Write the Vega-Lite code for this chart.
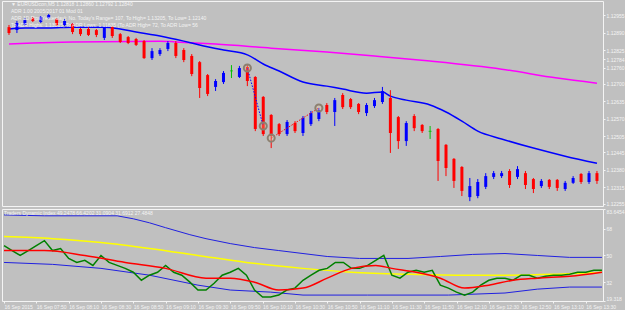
{
"$schema":"https://vega.github.io/schema/vega-lite/v6.json",
"background":"#C0C0C0",
"padding":{"left":0,"top":0,"right":0,"bottom":0},
"bounds":"flush",
"spacing":3,
"config":{"view":{"stroke":"#F4F4F4","strokeWidth":1},"font":"Liberation Sans",
"axis":{"labelColor":"#F4F4F4","labelFontSize":5,"tickColor":"#F4F4F4","tickSize":2,"labelPadding":1,"domain":false,"grid":false,"title":null,"labelFont":"Liberation Sans"}},
"datasets":{
"bars":[
{"t":"2015-09-16T07:30","d":"down","h":1.12918,"l":1.12881,"o":1.12910,"c":1.12888},
{"t":"2015-09-16T07:35","d":"up","h":1.12933,"l":1.12888,"o":1.12899,"c":1.12925},
{"t":"2015-09-16T07:40","d":"up","h":1.12944,"l":1.12914,"o":1.12918,"c":1.12936},
{"t":"2015-09-16T07:45","d":"down","h":1.12948,"l":1.12929,"o":1.12944,"c":1.12933},
{"t":"2015-09-16T07:50","d":"up","h":1.12951,"l":1.12925,"o":1.12929,"c":1.12948},
{"t":"2015-09-16T07:55","d":"up","h":1.12959,"l":1.12940,"o":1.12944,"c":1.12955},
{"t":"2015-09-16T08:00","d":"down","h":1.12944,"l":1.12914,"o":1.12940,"c":1.12918},
{"t":"2015-09-16T08:05","d":"up","h":1.12940,"l":1.12914,"o":1.12918,"c":1.12933},
{"t":"2015-09-16T08:10","d":"down","h":1.12925,"l":1.12884,"o":1.12922,"c":1.12892},
{"t":"2015-09-16T08:15","d":"down","h":1.12907,"l":1.12877,"o":1.12903,"c":1.12884},
{"t":"2015-09-16T08:20","d":"down","h":1.12910,"l":1.12877,"o":1.12903,"c":1.12881},
{"t":"2015-09-16T08:25","d":"down","h":1.12903,"l":1.12873,"o":1.12899,"c":1.12881},
{"t":"2015-09-16T08:30","d":"up","h":1.12910,"l":1.12862,"o":1.12870,"c":1.12907},
{"t":"2015-09-16T08:35","d":"down","h":1.12914,"l":1.12870,"o":1.12910,"c":1.12877},
{"t":"2015-09-16T08:40","d":"down","h":1.12888,"l":1.12851,"o":1.12884,"c":1.12855},
{"t":"2015-09-16T08:45","d":"down","h":1.12877,"l":1.12847,"o":1.12873,"c":1.12851},
{"t":"2015-09-16T08:50","d":"down","h":1.12870,"l":1.12840,"o":1.12866,"c":1.12844},
{"t":"2015-09-16T08:55","d":"down","h":1.12862,"l":1.12792,"o":1.12858,"c":1.12795},
{"t":"2015-09-16T09:00","d":"up","h":1.12832,"l":1.12788,"o":1.12795,"c":1.12821},
{"t":"2015-09-16T09:05","d":"up","h":1.12832,"l":1.12803,"o":1.12810,"c":1.12825},
{"t":"2015-09-16T09:10","d":"up","h":1.12858,"l":1.12821,"o":1.12829,"c":1.12851},
{"t":"2015-09-16T09:15","d":"down","h":1.12858,"l":1.12795,"o":1.12851,"c":1.12803},
{"t":"2015-09-16T09:20","d":"down","h":1.12832,"l":1.12780,"o":1.12825,"c":1.12788},
{"t":"2015-09-16T09:25","d":"down","h":1.12810,"l":1.12728,"o":1.12803,"c":1.12736},
{"t":"2015-09-16T09:30","d":"down","h":1.12784,"l":1.12647,"o":1.12780,"c":1.12684},
{"t":"2015-09-16T09:35","d":"down","h":1.12736,"l":1.12654,"o":1.12732,"c":1.12662},
{"t":"2015-09-16T09:40","d":"up","h":1.12717,"l":1.12673,"o":1.12688,"c":1.12710},
{"t":"2015-09-16T09:45","d":"up","h":1.12747,"l":1.12699,"o":1.12706,"c":1.12740},
{"t":"2015-09-16T09:50","d":"doji","h":1.12769,"l":1.12721,"o":1.12746,"c":1.12749},
{"t":"2015-09-16T09:55","d":"up","h":1.12766,"l":1.12721,"o":1.12725,"c":1.12758},
{"t":"2015-09-16T10:00","d":"down","h":1.12773,"l":1.12691,"o":1.12762,"c":1.12710},
{"t":"2015-09-16T10:05","d":"down","h":1.12728,"l":1.12524,"o":1.12725,"c":1.12532},
{"t":"2015-09-16T10:10","d":"down","h":1.12654,"l":1.12506,"o":1.12651,"c":1.12513},
{"t":"2015-09-16T10:15","d":"down","h":1.12587,"l":1.12461,"o":1.12584,"c":1.12506},
{"t":"2015-09-16T10:20","d":"down","h":1.12554,"l":1.12506,"o":1.12550,"c":1.12513},
{"t":"2015-09-16T10:25","d":"up","h":1.12565,"l":1.12506,"o":1.12513,"c":1.12558},
{"t":"2015-09-16T10:30","d":"down","h":1.12561,"l":1.12517,"o":1.12554,"c":1.12524},
{"t":"2015-09-16T10:35","d":"up","h":1.12580,"l":1.12506,"o":1.12517,"c":1.12573},
{"t":"2015-09-16T10:40","d":"up","h":1.12599,"l":1.12543,"o":1.12550,"c":1.12591},
{"t":"2015-09-16T10:45","d":"up","h":1.12610,"l":1.12561,"o":1.12569,"c":1.12602},
{"t":"2015-09-16T10:50","d":"down","h":1.12628,"l":1.12587,"o":1.12621,"c":1.12595},
{"t":"2015-09-16T10:55","d":"up","h":1.12647,"l":1.12543,"o":1.12595,"c":1.12639},
{"t":"2015-09-16T11:00","d":"down","h":1.12665,"l":1.12606,"o":1.12658,"c":1.12613},
{"t":"2015-09-16T11:05","d":"down","h":1.12647,"l":1.12606,"o":1.12643,"c":1.12613},
{"t":"2015-09-16T11:10","d":"down","h":1.12628,"l":1.12587,"o":1.12625,"c":1.12595},
{"t":"2015-09-16T11:15","d":"up","h":1.12628,"l":1.12580,"o":1.12591,"c":1.12621},
{"t":"2015-09-16T11:20","d":"up","h":1.12647,"l":1.12610,"o":1.12617,"c":1.12639},
{"t":"2015-09-16T11:25","d":"up","h":1.12688,"l":1.12625,"o":1.12632,"c":1.12673},
{"t":"2015-09-16T11:30","d":"down","h":1.12676,"l":1.12443,"o":1.12647,"c":1.12517},
{"t":"2015-09-16T11:35","d":"down","h":1.12580,"l":1.12458,"o":1.12576,"c":1.12487},
{"t":"2015-09-16T11:40","d":"up","h":1.12561,"l":1.12469,"o":1.12487,"c":1.12554},
{"t":"2015-09-16T11:45","d":"down","h":1.12587,"l":1.12524,"o":1.12580,"c":1.12535},
{"t":"2015-09-16T11:50","d":"down","h":1.12550,"l":1.12517,"o":1.12547,"c":1.12524},
{"t":"2015-09-16T11:55","d":"doji","h":1.12543,"l":1.12495,"o":1.12522,"c":1.12525},
{"t":"2015-09-16T12:00","d":"down","h":1.12535,"l":1.12339,"o":1.12532,"c":1.12413},
{"t":"2015-09-16T12:05","d":"down","h":1.12476,"l":1.12357,"o":1.12473,"c":1.12387},
{"t":"2015-09-16T12:10","d":"down","h":1.12424,"l":1.12313,"o":1.12421,"c":1.12339},
{"t":"2015-09-16T12:15","d":"down","h":1.12394,"l":1.12283,"o":1.12391,"c":1.12302},
{"t":"2015-09-16T12:20","d":"up","h":1.12350,"l":1.12264,"o":1.12279,"c":1.12320},
{"t":"2015-09-16T12:25","d":"up","h":1.12346,"l":1.12275,"o":1.12283,"c":1.12335},
{"t":"2015-09-16T12:30","d":"up","h":1.12368,"l":1.12309,"o":1.12317,"c":1.12357},
{"t":"2015-09-16T12:35","d":"up","h":1.12376,"l":1.12346,"o":1.12354,"c":1.12368},
{"t":"2015-09-16T12:40","d":"up","h":1.12376,"l":1.12350,"o":1.12357,"c":1.12368},
{"t":"2015-09-16T12:45","d":"down","h":1.12383,"l":1.12313,"o":1.12376,"c":1.12324},
{"t":"2015-09-16T12:50","d":"up","h":1.12394,"l":1.12346,"o":1.12354,"c":1.12383},
{"t":"2015-09-16T12:55","d":"down","h":1.12376,"l":1.12309,"o":1.12368,"c":1.12324},
{"t":"2015-09-16T13:00","d":"down","h":1.12350,"l":1.12294,"o":1.12346,"c":1.12309},
{"t":"2015-09-16T13:05","d":"up","h":1.12346,"l":1.12313,"o":1.12320,"c":1.12339},
{"t":"2015-09-16T13:10","d":"down","h":1.12346,"l":1.12309,"o":1.12343,"c":1.12317},
{"t":"2015-09-16T13:15","d":"down","h":1.12346,"l":1.12302,"o":1.12343,"c":1.12313},
{"t":"2015-09-16T13:20","d":"up","h":1.12339,"l":1.12302,"o":1.12309,"c":1.12332},
{"t":"2015-09-16T13:25","d":"up","h":1.12357,"l":1.12328,"o":1.12332,"c":1.12350},
{"t":"2015-09-16T13:30","d":"down","h":1.12368,"l":1.12328,"o":1.12365,"c":1.12335},
{"t":"2015-09-16T13:35","d":"up","h":1.12376,"l":1.12328,"o":1.12335,"c":1.12368},
{"t":"2015-09-16T13:40","d":"down","h":1.12376,"l":1.12328,"o":1.12368,"c":1.12339}
],
"ma1":[
{"t":"2015-09-16T07:30","v":1.12903},{"t":"2015-09-16T07:40","v":1.12907},{"t":"2015-09-16T07:55","v":1.12907},{"t":"2015-09-16T08:10","v":1.12910},{"t":"2015-09-16T08:30","v":1.12910},{"t":"2015-09-16T08:40","v":1.12903},{"t":"2015-09-16T08:50","v":1.12892},{"t":"2015-09-16T09:05","v":1.12877},{"t":"2015-09-16T09:20","v":1.12858},{"t":"2015-09-16T09:30","v":1.12844},{"t":"2015-09-16T09:45","v":1.12825},{"t":"2015-09-16T10:00","v":1.12807},{"t":"2015-09-16T10:10","v":1.12773},{"t":"2015-09-16T10:20","v":1.12747},{"t":"2015-09-16T10:35","v":1.12706},{"t":"2015-09-16T10:50","v":1.12691},{"t":"2015-09-16T11:00","v":1.12680},{"t":"2015-09-16T11:15","v":1.12665},{"t":"2015-09-16T11:25","v":1.12669},{"t":"2015-09-16T11:30","v":1.12654},{"t":"2015-09-16T11:40","v":1.12639},{"t":"2015-09-16T11:55","v":1.12621},{"t":"2015-09-16T12:05","v":1.12595},{"t":"2015-09-16T12:15","v":1.12561},{"t":"2015-09-16T12:25","v":1.12524},{"t":"2015-09-16T12:40","v":1.12495},{"t":"2015-09-16T13:00","v":1.12461},{"t":"2015-09-16T13:20","v":1.12431},{"t":"2015-09-16T13:40","v":1.12405}
],
"ma2":[
{"t":"2015-09-16T07:30","v":1.12847},{"t":"2015-09-16T07:45","v":1.12851},{"t":"2015-09-16T08:10","v":1.12855},{"t":"2015-09-16T09:05","v":1.12858},{"t":"2015-09-16T09:15","v":1.12855},{"t":"2015-09-16T09:40","v":1.12847},{"t":"2015-09-16T10:15","v":1.12832},{"t":"2015-09-16T10:50","v":1.12818},{"t":"2015-09-16T11:20","v":1.12803},{"t":"2015-09-16T11:55","v":1.12784},{"t":"2015-09-16T12:40","v":1.12754},{"t":"2015-09-16T13:15","v":1.12721},{"t":"2015-09-16T13:40","v":1.12702}
],
"zz":[
{"t":"2015-09-16T10:00","v":1.12758,"g":"a"},{"t":"2015-09-16T10:10","v":1.12543,"g":"a"},
{"t":"2015-09-16T10:15","v":1.12498,"g":"b"},{"t":"2015-09-16T10:45","v":1.12610,"g":"b"}
],
"tdi":[
{"t":"2015-09-16T07:30","s":"up","v":77.3},{"t":"2015-09-16T07:55","s":"up","v":76.7},{"t":"2015-09-16T08:20","s":"up","v":76.7},{"t":"2015-09-16T08:40","s":"up","v":76.7},{"t":"2015-09-16T08:50","s":"up","v":74.7},{"t":"2015-09-16T09:00","s":"up","v":72},{"t":"2015-09-16T09:10","s":"up","v":68.7},{"t":"2015-09-16T09:25","s":"up","v":64},{"t":"2015-09-16T09:35","s":"up","v":61.3},{"t":"2015-09-16T09:50","s":"up","v":58},{"t":"2015-09-16T10:05","s":"up","v":55.3},{"t":"2015-09-16T10:20","s":"up","v":53.3},{"t":"2015-09-16T10:35","s":"up","v":51.3},{"t":"2015-09-16T10:50","s":"up","v":49.3},{"t":"2015-09-16T11:10","s":"up","v":48},{"t":"2015-09-16T11:40","s":"up","v":48},{"t":"2015-09-16T12:00","s":"up","v":49.3},{"t":"2015-09-16T12:20","s":"up","v":50.7},{"t":"2015-09-16T12:40","s":"up","v":51.3},{"t":"2015-09-16T13:00","s":"up","v":50},{"t":"2015-09-16T13:20","s":"up","v":48.7},{"t":"2015-09-16T13:40","s":"up","v":48.7},
{"t":"2015-09-16T07:30","s":"lo","v":45.3},{"t":"2015-09-16T08:00","s":"lo","v":44},{"t":"2015-09-16T08:30","s":"lo","v":41.3},{"t":"2015-09-16T09:00","s":"lo","v":36.7},{"t":"2015-09-16T09:30","s":"lo","v":30},{"t":"2015-09-16T09:50","s":"lo","v":26.7},{"t":"2015-09-16T10:15","s":"lo","v":25.3},{"t":"2015-09-16T10:35","s":"lo","v":23.3},{"t":"2015-09-16T11:15","s":"lo","v":23.3},{"t":"2015-09-16T12:05","s":"lo","v":23.3},{"t":"2015-09-16T12:40","s":"lo","v":24.7},{"t":"2015-09-16T13:00","s":"lo","v":27.3},{"t":"2015-09-16T13:20","s":"lo","v":28.7},{"t":"2015-09-16T13:40","s":"lo","v":28.7},
{"t":"2015-09-16T07:30","s":"mid","v":62.7},{"t":"2015-09-16T08:00","s":"mid","v":61.3},{"t":"2015-09-16T08:30","s":"mid","v":58.7},{"t":"2015-09-16T09:00","s":"mid","v":54.7},{"t":"2015-09-16T09:30","s":"mid","v":50},{"t":"2015-09-16T10:00","s":"mid","v":45.3},{"t":"2015-09-16T10:35","s":"mid","v":41.3},{"t":"2015-09-16T11:05","s":"mid","v":38.7},{"t":"2015-09-16T11:40","s":"mid","v":37.3},{"t":"2015-09-16T12:10","s":"mid","v":36.7},{"t":"2015-09-16T12:40","s":"mid","v":36.7},{"t":"2015-09-16T13:10","s":"mid","v":37.3},{"t":"2015-09-16T13:40","s":"mid","v":38.7},
{"t":"2015-09-16T07:30","s":"sig","v":53.3},{"t":"2015-09-16T07:55","s":"sig","v":53.3},{"t":"2015-09-16T08:20","s":"sig","v":50},{"t":"2015-09-16T08:45","s":"sig","v":45.3},{"t":"2015-09-16T09:10","s":"sig","v":41.3},{"t":"2015-09-16T09:35","s":"sig","v":34.7},{"t":"2015-09-16T09:50","s":"sig","v":34.7},{"t":"2015-09-16T10:05","s":"sig","v":32},{"t":"2015-09-16T10:20","s":"sig","v":26.7},{"t":"2015-09-16T10:35","s":"sig","v":28},{"t":"2015-09-16T10:50","s":"sig","v":34.7},{"t":"2015-09-16T11:05","s":"sig","v":41.3},{"t":"2015-09-16T11:20","s":"sig","v":43.3},{"t":"2015-09-16T11:30","s":"sig","v":41.3},{"t":"2015-09-16T11:45","s":"sig","v":38.7},{"t":"2015-09-16T12:00","s":"sig","v":34.7},{"t":"2015-09-16T12:15","s":"sig","v":28},{"t":"2015-09-16T12:30","s":"sig","v":30},{"t":"2015-09-16T12:45","s":"sig","v":33.3},{"t":"2015-09-16T13:00","s":"sig","v":34.7},{"t":"2015-09-16T13:20","s":"sig","v":36},{"t":"2015-09-16T13:40","s":"sig","v":38.7},
{"t":"2015-09-16T07:30","s":"rsi","v":56.7},{"t":"2015-09-16T07:35","s":"rsi","v":53.3},{"t":"2015-09-16T07:40","s":"rsi","v":50},{"t":"2015-09-16T07:45","s":"rsi","v":53.3},{"t":"2015-09-16T07:50","s":"rsi","v":56.7},{"t":"2015-09-16T07:55","s":"rsi","v":60},{"t":"2015-09-16T08:00","s":"rsi","v":53.3},{"t":"2015-09-16T08:05","s":"rsi","v":54.7},{"t":"2015-09-16T08:10","s":"rsi","v":48},{"t":"2015-09-16T08:15","s":"rsi","v":45.3},{"t":"2015-09-16T08:20","s":"rsi","v":46.7},{"t":"2015-09-16T08:25","s":"rsi","v":43.3},{"t":"2015-09-16T08:30","s":"rsi","v":50},{"t":"2015-09-16T08:35","s":"rsi","v":45.3},{"t":"2015-09-16T08:40","s":"rsi","v":43.3},{"t":"2015-09-16T08:45","s":"rsi","v":41.3},{"t":"2015-09-16T08:50","s":"rsi","v":38.7},{"t":"2015-09-16T08:55","s":"rsi","v":33.3},{"t":"2015-09-16T09:00","s":"rsi","v":36.7},{"t":"2015-09-16T09:05","s":"rsi","v":38.7},{"t":"2015-09-16T09:10","s":"rsi","v":43.3},{"t":"2015-09-16T09:15","s":"rsi","v":38.7},{"t":"2015-09-16T09:20","s":"rsi","v":36.7},{"t":"2015-09-16T09:25","s":"rsi","v":32},{"t":"2015-09-16T09:30","s":"rsi","v":26.7},{"t":"2015-09-16T09:35","s":"rsi","v":26.7},{"t":"2015-09-16T09:40","s":"rsi","v":31.3},{"t":"2015-09-16T09:45","s":"rsi","v":36.7},{"t":"2015-09-16T09:50","s":"rsi","v":38.7},{"t":"2015-09-16T09:55","s":"rsi","v":41.3},{"t":"2015-09-16T10:00","s":"rsi","v":36.7},{"t":"2015-09-16T10:05","s":"rsi","v":26.7},{"t":"2015-09-16T10:10","s":"rsi","v":22},{"t":"2015-09-16T10:15","s":"rsi","v":22},{"t":"2015-09-16T10:20","s":"rsi","v":23.3},{"t":"2015-09-16T10:25","s":"rsi","v":26.7},{"t":"2015-09-16T10:30","s":"rsi","v":28},{"t":"2015-09-16T10:35","s":"rsi","v":33.3},{"t":"2015-09-16T10:40","s":"rsi","v":36.7},{"t":"2015-09-16T10:45","s":"rsi","v":40},{"t":"2015-09-16T10:50","s":"rsi","v":41.3},{"t":"2015-09-16T10:55","s":"rsi","v":45.3},{"t":"2015-09-16T11:00","s":"rsi","v":45.3},{"t":"2015-09-16T11:05","s":"rsi","v":41.3},{"t":"2015-09-16T11:10","s":"rsi","v":41.3},{"t":"2015-09-16T11:15","s":"rsi","v":43.3},{"t":"2015-09-16T11:20","s":"rsi","v":46.7},{"t":"2015-09-16T11:25","s":"rsi","v":50},{"t":"2015-09-16T11:30","s":"rsi","v":36.7},{"t":"2015-09-16T11:35","s":"rsi","v":34.7},{"t":"2015-09-16T11:40","s":"rsi","v":38.7},{"t":"2015-09-16T11:45","s":"rsi","v":40},{"t":"2015-09-16T11:50","s":"rsi","v":38.7},{"t":"2015-09-16T11:55","s":"rsi","v":40},{"t":"2015-09-16T12:00","s":"rsi","v":30},{"t":"2015-09-16T12:05","s":"rsi","v":28},{"t":"2015-09-16T12:10","s":"rsi","v":25.3},{"t":"2015-09-16T12:15","s":"rsi","v":23.3},{"t":"2015-09-16T12:20","s":"rsi","v":25.3},{"t":"2015-09-16T12:25","s":"rsi","v":30},{"t":"2015-09-16T12:30","s":"rsi","v":33.3},{"t":"2015-09-16T12:35","s":"rsi","v":34.7},{"t":"2015-09-16T12:40","s":"rsi","v":34.7},{"t":"2015-09-16T12:45","s":"rsi","v":33.3},{"t":"2015-09-16T12:50","s":"rsi","v":36.7},{"t":"2015-09-16T12:55","s":"rsi","v":36.7},{"t":"2015-09-16T13:00","s":"rsi","v":34.7},{"t":"2015-09-16T13:05","s":"rsi","v":36},{"t":"2015-09-16T13:10","s":"rsi","v":36.7},{"t":"2015-09-16T13:15","s":"rsi","v":36.7},{"t":"2015-09-16T13:20","s":"rsi","v":37.3},{"t":"2015-09-16T13:25","s":"rsi","v":38.7},{"t":"2015-09-16T13:30","s":"rsi","v":38.7},{"t":"2015-09-16T13:35","s":"rsi","v":40},{"t":"2015-09-16T13:40","s":"rsi","v":40}
],
"notes":[
{"t":"2015-09-16T07:30","v":1.12996,"txt":"▼ EURUSDcon,M5  1.12818 1.12860 1.12792 1.12840"},
{"t":"2015-09-16T07:30","v":1.12970,"txt":"ADR 1.00 2005/2017 01 Mod 01"},
{"t":"2015-09-16T07:30","v":1.12944,"txt":"ADR 1D Pips(Yesterday): No. Today's Range= 107, To High= 1.13205, To Low= 1.12140"},
{"t":"2015-09-16T07:30","v":1.12918,"txt":"To ADR Highs: 1.13515, To ADR Lows: 1.11835 (To ADR High= 72, To ADR Low= 56"}
]
},
"vconcat":[
{"width":601,"height":205,
"layer":[
{"data":{"values":[{"v":1.13000},{"v":1.12500}]},"mark":{"type":"rule","color":"#008000","strokeDash":[2,2],"strokeWidth":1},"encoding":{"y":{"field":"v","type":"quantitative"}}},
{"data":{"values":[{"v":1.12790}]},"mark":{"type":"rule","color":"#8A96A6","strokeWidth":1},"encoding":{"y":{"field":"v","type":"quantitative"}}},
{"data":{"name":"ma2"},"mark":{"type":"line","color":"#FF00FF","strokeWidth":1.5,"interpolate":"monotone"},"encoding":{"x":{"field":"t","type":"temporal"},"y":{"field":"v","type":"quantitative"}}},
{"data":{"name":"ma1"},"mark":{"type":"line","color":"#0000FF","strokeWidth":1.5,"interpolate":"monotone"},"encoding":{"x":{"field":"t","type":"temporal"},"y":{"field":"v","type":"quantitative"}}},
{"data":{"name":"bars"},"mark":{"type":"rule","strokeWidth":1},"encoding":{"x":{"field":"t","type":"temporal"},"y":{"field":"l","type":"quantitative"},"y2":{"field":"h"},"color":{"field":"d","type":"nominal","scale":{"domain":["up","down","doji"],"range":["#0000FF","#FF0000","#00C000"]},"legend":null}}},
{"data":{"name":"bars"},"mark":{"type":"bar","width":3},"encoding":{"x":{"field":"t","type":"temporal"},"y":{"field":"o","type":"quantitative"},"y2":{"field":"c"},"color":{"field":"d","type":"nominal","legend":null}}},
{"data":{"name":"zz"},"mark":{"type":"line","strokeDash":[1.5,1.5],"strokeWidth":1},"encoding":{"x":{"field":"t","type":"temporal"},"y":{"field":"v","type":"quantitative"},"detail":{"field":"g"},"color":{"field":"g","type":"nominal","scale":{"domain":["a","b"],"range":["#FF4040","#4040FF"]},"legend":null}}},
{"data":{"name":"zz"},"mark":{"type":"point","shape":"circle","size":50,"strokeWidth":2,"stroke":"#8C8070","fill":"#F0C8A0","fillOpacity":0.3},"encoding":{"x":{"field":"t","type":"temporal"},"y":{"field":"v","type":"quantitative"}}},
{"data":{"name":"notes"},"mark":{"type":"text","align":"left","baseline":"middle","fontSize":5,"color":"#F4F4F4","dx":2},"encoding":{"x":{"field":"t","type":"temporal"},"y":{"field":"v","type":"quantitative"},"text":{"field":"txt"}}}
],
"encoding":{
"x":{"field":"t","type":"temporal","scale":{"domain":[{"year":2015,"month":9,"date":16,"hours":7,"minutes":28,"seconds":45},{"year":2015,"month":9,"date":16,"hours":13,"minutes":40,"seconds":39}]},"axis":null},
"y":{"field":"v","type":"quantitative","scale":{"domain":[1.12246,1.13007],"nice":false,"zero":false},"axis":{"orient":"right","values":[1.12955,1.1289,1.12825,1.1279,1.1276,1.127,1.12635,1.1257,1.12505,1.12445,1.1238,1.12315,1.12255],"labelExpr":"datum.value==1.1279 ? '1.12784' : format(datum.value, '.5f')","labelOverlap":false}}
}
},
{"width":601,"height":92,
"layer":[
{"data":{"values":[{"v":68},{"v":50},{"v":32}]},"mark":{"type":"rule","color":"#606060","strokeDash":[2,2],"strokeWidth":1},"encoding":{"y":{"field":"v","type":"quantitative"}}},
{"data":{"name":"tdi"},"transform":[{"filter":"datum.s=='up'||datum.s=='lo'"}],"mark":{"type":"line","color":"#2020E0","strokeWidth":1},"encoding":{"x":{"field":"t","type":"temporal"},"y":{"field":"v","type":"quantitative"},"detail":{"field":"s"}}},
{"data":{"name":"tdi"},"transform":[{"filter":"datum.s=='mid'"}],"mark":{"type":"line","color":"#FFFF00","strokeWidth":1.5,"interpolate":"monotone"},"encoding":{"x":{"field":"t","type":"temporal"},"y":{"field":"v","type":"quantitative"}}},
{"data":{"name":"tdi"},"transform":[{"filter":"datum.s=='rsi'"}],"mark":{"type":"line","color":"#008000","strokeWidth":1.5},"encoding":{"x":{"field":"t","type":"temporal"},"y":{"field":"v","type":"quantitative"}}},
{"data":{"name":"tdi"},"transform":[{"filter":"datum.s=='sig'"}],"mark":{"type":"line","color":"#FF0000","strokeWidth":1.5,"interpolate":"monotone"},"encoding":{"x":{"field":"t","type":"temporal"},"y":{"field":"v","type":"quantitative"}}},
{"data":{"values":[{"t":"2015-09-16T07:30","v":78.8,"txt":"Traders Dynamic Index 49.2478 66.4202 31.0904 31.6912 27.4848"}]},"mark":{"type":"text","align":"left","baseline":"middle","fontSize":5,"color":"#F4F4F4"},"encoding":{"x":{"field":"t","type":"temporal"},"y":{"field":"v","type":"quantitative"},"text":{"field":"txt"}}}
],
"encoding":{
"x":{"field":"t","type":"temporal","scale":{"domain":[{"year":2015,"month":9,"date":16,"hours":7,"minutes":28,"seconds":45},{"year":2015,"month":9,"date":16,"hours":13,"minutes":40,"seconds":39}]},
"axis":{"values":[
{"year":2015,"month":9,"date":16,"hours":7,"minutes":30},{"year":2015,"month":9,"date":16,"hours":7,"minutes":50},{"year":2015,"month":9,"date":16,"hours":8,"minutes":10},{"year":2015,"month":9,"date":16,"hours":8,"minutes":30},{"year":2015,"month":9,"date":16,"hours":8,"minutes":50},{"year":2015,"month":9,"date":16,"hours":9,"minutes":10},{"year":2015,"month":9,"date":16,"hours":9,"minutes":30},{"year":2015,"month":9,"date":16,"hours":9,"minutes":50},{"year":2015,"month":9,"date":16,"hours":10,"minutes":10},{"year":2015,"month":9,"date":16,"hours":10,"minutes":30},{"year":2015,"month":9,"date":16,"hours":10,"minutes":50},{"year":2015,"month":9,"date":16,"hours":11,"minutes":10},{"year":2015,"month":9,"date":16,"hours":11,"minutes":30},{"year":2015,"month":9,"date":16,"hours":11,"minutes":50},{"year":2015,"month":9,"date":16,"hours":12,"minutes":10},{"year":2015,"month":9,"date":16,"hours":12,"minutes":30},{"year":2015,"month":9,"date":16,"hours":12,"minutes":50},{"year":2015,"month":9,"date":16,"hours":13,"minutes":10},{"year":2015,"month":9,"date":16,"hours":13,"minutes":30}],
"labelExpr":"hours(datum.value)==7 && minutes(datum.value)==30 ? '16 Sep 2015' : timeFormat(datum.value, '16 Sep %H:%M')","labelAlign":"left","labelPadding":1,"labelFlush":false,"labelOverlap":false}},
"y":{"field":"v","type":"quantitative","scale":{"domain":[19.318,81.3],"nice":false,"zero":false},"axis":{"orient":"right","values":[81.3,68,50,32,19.318],"labelFlush":true,"labelExpr":"datum.value==81.3 ? '83.6454' : datum.value==19.318 ? '19.318' : format(datum.value,'d')"}}
}
}
]
}
